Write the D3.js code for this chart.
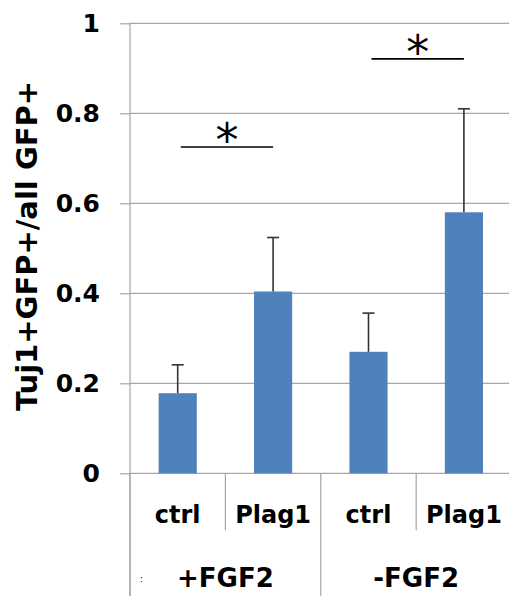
<!DOCTYPE html>
<html>
<head>
<meta charset="utf-8">
<script src="https://cdn.jsdelivr.net/npm/d3@7"></script>
<style>
  body { margin: 0; background: #fff; }
  text { font-family: "DejaVu Sans", Verdana, sans-serif; font-weight: bold; fill: #000; }
</style>
</head>
<body>
<div id="chart"></div>
<script>
// chart values
const groups = ["+FGF2", "-FGF2"];
const conditions = ["ctrl", "Plag1", "ctrl", "Plag1"];
const means = [0.178, 0.404, 0.270, 0.580];
const errors = [0.063, 0.120, 0.086, 0.230];
const yTicks = [0, 0.2, 0.4, 0.6, 0.8, 1];
// significance: [from bar, to bar, height]
const sigPairs = [[0, 1, 0.725], [2, 3, 0.921]];

const width = 509;
const height = 596;
const margin = { top: 23.3, left: 130, bottom: 122.7 };
const plotRight = 511.6;

const svg = d3.select("#chart")
    .append("svg")
    .attr("width", width)
    .attr("height", height);

const x = d3.scaleBand()
    .domain(d3.range(conditions.length))
    .range([margin.left, plotRight])
    .paddingInner(0.6)
    .paddingOuter(0.3);
const step = x.step();

const y = d3.scaleLinear()
    .domain([0, 1])
    .range([height - margin.bottom, margin.top]);

// gridlines
svg.append("g")
    .selectAll("line")
    .data(yTicks)
    .join("line")
    .attr("x1", margin.left)
    .attr("x2", width)
    .attr("y1", d => y(d))
    .attr("y2", d => y(d))
    .attr("stroke", "#a6a6a6")
    .attr("stroke-width", 1.2);

// y axis
const yAxis = svg.append("g")
    .attr("transform", `translate(${margin.left},0)`)
    .call(d3.axisLeft(y).tickValues(yTicks).tickSize(10).tickPadding(20).tickFormat(d => String(d)));
yAxis.select(".domain").attr("stroke", "#a6a6a6").attr("stroke-width", 1.2)
    .attr("d", `M0,${y(1)}V${height}`);
yAxis.selectAll(".tick line").attr("stroke", "#a6a6a6").attr("stroke-width", 1.2);
yAxis.selectAll(".tick text")
    .style("font-family", "DejaVu Sans, sans-serif")
    .style("font-weight", "bold")
    .style("font-size", "25px")
    .attr("fill", "#000");

// y title
svg.append("text")
    .attr("transform", `translate(37,246) rotate(-90)`)
    .attr("text-anchor", "middle")
    .style("font-size", "29px")
    .text("Tuj1+GFP+/all GFP+");

// category dividers
const x0 = y(0);
svg.append("g")
    .selectAll("line")
    .data(d3.range(conditions.length + 1))
    .join("line")
    .attr("x1", i => margin.left + i * step)
    .attr("x2", i => margin.left + i * step)
    .attr("y1", x0)
    .attr("y2", i => i % 2 === 0 ? height : x0 + 57)
    .attr("stroke", "#a6a6a6")
    .attr("stroke-width", 1.2);

// bars
svg.append("g")
    .selectAll("rect")
    .data(means)
    .join("rect")
    .attr("x", (d, i) => x(i))
    .attr("y", d => y(d))
    .attr("width", x.bandwidth())
    .attr("height", d => y(0) - y(d))
    .attr("fill", "#4f81bd");

// error bars
const eb = svg.append("g").attr("stroke", "#333").attr("stroke-width", 1.6);
means.forEach((m, i) => {
    const cx = x(i) + x.bandwidth() / 2;
    eb.append("line").attr("x1", cx).attr("x2", cx).attr("y1", y(m)).attr("y2", y(m + errors[i]));
    eb.append("line").attr("x1", cx - 6).attr("x2", cx + 6).attr("y1", y(m + errors[i])).attr("y2", y(m + errors[i]));
});

// significance markers
sigPairs.forEach(([a, b, h]) => {
    const xa = x(a) + x.bandwidth() / 2 + 3;
    const xb = x(b) + x.bandwidth() / 2;
    svg.append("line")
        .attr("x1", xa).attr("x2", xb)
        .attr("y1", y(h)).attr("y2", y(h))
        .attr("stroke", "#000").attr("stroke-width", 1.6);
    svg.append("text")
        .attr("x", (xa + xb) / 2)
        .attr("y", y(h) + 9)
        .attr("text-anchor", "middle")
        .style("font-weight", "normal")
        .style("font-size", "46px")
        .text("*");
});

// category labels
svg.append("g")
    .selectAll("text")
    .data(conditions)
    .join("text")
    .attr("x", (d, i) => x(i) + x.bandwidth() / 2)
    .attr("y", 523)
    .attr("text-anchor", "middle")
    .style("font-size", "24px")
    .text(d => d);

// group labels
svg.append("g")
    .selectAll("text")
    .data(groups)
    .join("text")
    .attr("x", (d, i) => margin.left + (i * 2 + 1) * step)
    .attr("y", 587)
    .attr("text-anchor", "middle")
    .style("font-size", "26px")
    .text(d => d);

svg.append("text")
    .attr("x", 140).attr("y", 582)
    .style("font-size", "9px").style("font-weight", "normal")
    .attr("fill", "#555")
    .text(":");
</script>
</body>
</html>
